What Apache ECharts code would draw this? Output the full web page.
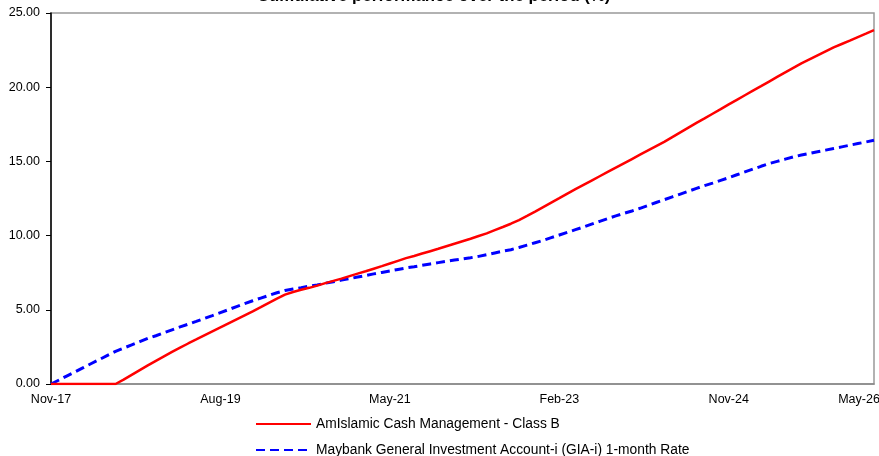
<!DOCTYPE html>
<html>
<head>
<meta charset="utf-8">
<script src="https://cdn.jsdelivr.net/npm/echarts@6/dist/echarts.min.js"></script>
<style>
html,body{margin:0;padding:0;background:#fff;}
#chart{width:879px;height:456px;}
</style>
</head>
<body>
<div id="chart"></div>
<script>
// Monthly categories Nov-17 .. May-26
var monthNames = ['Jan','Feb','Mar','Apr','May','Jun','Jul','Aug','Sep','Oct','Nov','Dec'];
var categories = [];
(function(){
  var m = 10, y = 2017;
  while (!(y === 2026 && m === 5)) {
    categories.push(monthNames[m] + '-' + String(y).slice(2));
    m++; if (m > 11) { m = 0; y++; }
  }
})();

var tickLabels = ['Nov-17','Aug-19','May-21','Feb-23','Nov-24','May-26'];

var seriesNames = [
  'AmIslamic Cash Management - Class B',
  'Maybank General Investment Account-i (GIA-i) 1-month Rate'
];

var fundValues = [
  0,0,0,0,0,0,0,0,0,0.29,
  0.61,0.93,1.25,1.56,1.86,2.16,2.45,2.73,3.0,3.28,
  3.55,3.82,4.09,4.36,4.63,4.9,5.18,5.47,5.75,6.02,
  6.2,6.35,6.48,6.63,6.8,6.95,7.1,7.27,7.44,7.6,
  7.77,7.94,8.12,8.3,8.48,8.63,8.79,8.95,9.11,9.28,
  9.45,9.62,9.79,9.97,10.15,10.37,10.58,10.8,11.05,11.33,
  11.62,11.92,12.22,12.52,12.83,13.13,13.42,13.71,14.0,14.29,
  14.58,14.87,15.16,15.45,15.74,16.03,16.32,16.64,16.96,17.28,
  17.6,17.9,18.21,18.52,18.84,19.15,19.46,19.77,20.07,20.38,
  20.69,21.0,21.3,21.6,21.87,22.14,22.41,22.68,22.91,23.14,
  23.38,23.61,23.85
];

var benchValues = [
  0,0.27,0.55,0.82,1.1,1.38,1.65,1.93,2.2,2.42,
  2.63,2.85,3.07,3.25,3.45,3.65,3.85,4.03,4.22,4.42,
  4.61,4.81,5.01,5.22,5.42,5.61,5.79,5.97,6.15,6.3,
  6.4,6.49,6.59,6.68,6.79,6.89,7.0,7.1,7.21,7.31,
  7.42,7.52,7.62,7.72,7.82,7.9,8.0,8.09,8.18,8.27,
  8.35,8.43,8.51,8.6,8.71,8.83,8.95,9.05,9.2,9.36,
  9.52,9.68,9.86,10.04,10.22,10.4,10.58,10.77,10.96,11.15,
  11.33,11.5,11.66,11.84,12.03,12.23,12.42,12.61,12.8,12.99,
  13.18,13.37,13.54,13.72,13.9,14.1,14.29,14.48,14.67,14.85,
  15.0,15.15,15.3,15.43,15.54,15.65,15.76,15.87,15.98,16.09,
  16.2,16.31,16.42
];

var chart = echarts.init(document.getElementById('chart'), null, {renderer:'canvas'});
var font = 'Liberation Sans, Arial, Helvetica, sans-serif';
var lastLabel = tickLabels[tickLabels.length - 1];

chart.setOption({
  animation: false,
  backgroundColor: '#fff',
  title: {
    text: 'Cumulative performance over the period (%)',
    left: 257,
    top: -12,
    padding: 0,
    textStyle: {fontFamily: font, fontSize: 16.8, fontWeight: 'bold', color: '#000'}
  },
  legend: {
    orient: 'vertical',
    left: 255,
    top: 417,
    height: 80,
    padding: 0,
    itemWidth: 55,
    itemHeight: 14,
    itemGap: 12,
    itemStyle: {opacity: 0},
    textStyle: {fontFamily: font, fontSize: 13.8, color: '#000'},
    data: seriesNames
  },
  grid: {
    left: 51, right: 5, top: 13, bottom: 72,
    outerBoundsMode: 'none',
    containLabel: false,
    show: true, borderColor: '#999', borderWidth: 1.5, backgroundColor: 'transparent'
  },
  xAxis: {
    type: 'category',
    data: categories,
    boundaryGap: false,
    axisLine: {lineStyle: {color: '#888', width: 1.5}},
    axisTick: {show: false},
    splitLine: {show: false},
    axisLabel: {
      margin: 9,
      fontFamily: font, fontSize: 12.5, color: '#000',
      interval: function (idx, val) { return tickLabels.indexOf(val) >= 0; },
      formatter: function (val) { return val === lastLabel ? '{last|' + val + '}' : val; },
      rich: {
        last: {fontFamily: font, fontSize: 12.5, color: '#000', padding: [0, 30, 0, 0]}
      }
    }
  },
  yAxis: {
    type: 'value',
    min: 0, max: 25, interval: 5,
    axisLine: {show: true, lineStyle: {color: '#000', width: 1.5}},
    axisTick: {show: true, length: 5, lineStyle: {color: '#000'}},
    splitLine: {show: false},
    axisLabel: {
      margin: 11,
      fontFamily: font, fontSize: 12.5, color: '#000',
      formatter: function (v) { return v.toFixed(2); }
    }
  },
  series: [
    {
      name: seriesNames[0], type: 'line', data: fundValues,
      symbol: 'none', smooth: false,
      lineStyle: {color: '#ff0000', width: 2.5},
      itemStyle: {color: '#ff0000'},
      z: 3
    },
    {
      name: seriesNames[1], type: 'line', data: benchValues,
      symbol: 'none', smooth: false,
      lineStyle: {color: '#0000ff', width: 3, type: [9, 5]},
      itemStyle: {color: '#0000ff'},
      z: 2
    }
  ]
});
</script>
</body>
</html>
